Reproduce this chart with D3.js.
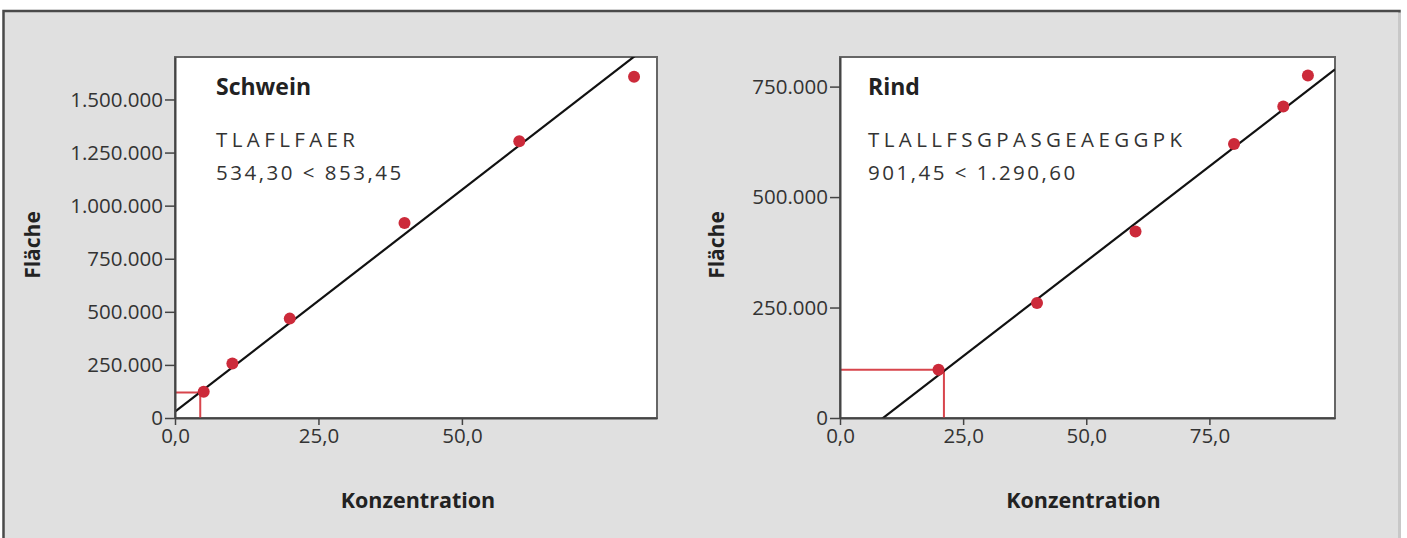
<!DOCTYPE html>
<html>
<head>
<meta charset="utf-8">
<script src="https://cdn.jsdelivr.net/npm/d3@7"></script>
<style>
  body { margin: 0; background: #fff; }
  svg text { font-family: "Open Sans", "Noto Sans", sans-serif; }
</style>
</head>
<body>
<script>
// Schwein
const schweinConc = [5, 10, 20, 40, 60, 80];
const schweinArea = [124000, 257000, 468000, 918000, 1303000, 1607000];
const schweinFit = [29600, 20900];      // Achsenabschnitt, Steigung
const schweinLimit = [4.4, 120000];     // markierter Punkt
const schweinXTicks = [0, 25, 50];
const schweinYTicks = [0, 250000, 500000, 750000, 1000000, 1250000, 1500000];

// Rind
const rindConc = [20, 40, 60, 80, 90, 95];
const rindArea = [109000, 260000, 422000, 620000, 705000, 775000];
const rindFit = [-75100, 8596];
const rindLimit = [21.1, 109000];
const rindXTicks = [0, 25, 50, 75];
const rindYTicks = [0, 250000, 500000, 750000];

const width = 1407;
const height = 538;

const de = d3.formatLocale({decimal: ",", thousands: ".", grouping: [3], currency: ["", " €"]});
const fmtY = de.format(",.0f");
const fmtX = de.format(",.1f");

const svg = d3.select("body")
  .append("svg")
  .attr("width", width)
  .attr("height", height);

// Hintergrund mit Rahmen
svg.append("rect")
  .attr("x", 3.5)
  .attr("y", 11)
  .attr("width", 1396)
  .attr("height", 540)
  .attr("fill", "#e0e0e0")
  .attr("stroke", "#4a4a4a")
  .attr("stroke-width", 2.5);

// rechter Rand etwas heller
svg.append("line")
  .attr("x1", 1399.5).attr("x2", 1399.5)
  .attr("y1", 12.5).attr("y2", height)
  .attr("stroke", "#c8c8c8")
  .attr("stroke-width", 3);

const panels = [
  {
    id: "schwein", title: "Schwein", peptide: "TLAFLFAER", mass: "534,30 < 853,45",
    conc: schweinConc, area: schweinArea, fit: schweinFit, limit: schweinLimit,
    xTicks: schweinXTicks, yTicks: schweinYTicks,
    xMax: 84, yMax: 1700000,
    left: 175, right: 657, textX: 41, ylabelX: 33, xlabelShift: 2
  },
  {
    id: "rind", title: "Rind", peptide: "TLALLFSGPASGEAEGGPK", mass: "901,45 < 1.290,60",
    conc: rindConc, area: rindArea, fit: rindFit, limit: rindLimit,
    xTicks: rindXTicks, yTicks: rindYTicks,
    xMax: 100.5, yMax: 817000,
    left: 840, right: 1335, textX: 28, ylabelX: 717, xlabelShift: -4
  }
];

const plotTop = 57;
const plotBottom = 418;

panels.forEach(p => {
  const x = d3.scaleLinear().domain([0, p.xMax]).range([p.left, p.right]);
  const y = d3.scaleLinear().domain([0, p.yMax]).range([plotBottom, plotTop]);
  const w = p.right - p.left;
  const h = plotBottom - plotTop;

  svg.append("clipPath")
    .attr("id", "clip-" + p.id)
    .append("rect")
    .attr("x", p.left)
    .attr("y", plotTop)
    .attr("width", w)
    .attr("height", h);

  // Plotflaeche
  svg.append("rect")
    .attr("x", p.left)
    .attr("y", plotTop)
    .attr("width", w)
    .attr("height", h)
    .attr("fill", "white")
    .attr("stroke", "#666")
    .attr("stroke-width", 2);

  const g = svg.append("g").attr("clip-path", `url(#clip-${p.id})`);

  // rote Hilfslinien
  g.append("path")
    .attr("d", `M${x(0)},${y(p.limit[1])}H${x(p.limit[0])}V${y(0)}`)
    .attr("fill", "none")
    .attr("stroke", "#d8454c")
    .attr("stroke-width", 2);

  // Regressionsgerade
  const fitLine = d3.line()
    .x(d => x(d))
    .y(d => y(p.fit[0] + p.fit[1] * d));
  g.append("path")
    .datum([0, p.xMax])
    .attr("d", fitLine)
    .attr("fill", "none")
    .attr("stroke", "#111")
    .attr("stroke-width", 2.2);

  // Messpunkte
  svg.append("g")
    .selectAll("circle")
    .data(p.conc.map((c, i) => [c, p.area[i]]))
    .join("circle")
    .attr("cx", d => x(d[0]))
    .attr("cy", d => y(d[1]))
    .attr("r", 6)
    .attr("fill", "#cc2a3a");

  // Achsen
  const yAxis = svg.append("g")
    .attr("transform", `translate(${p.left},0)`)
    .call(d3.axisLeft(y).tickValues(p.yTicks).tickFormat(fmtY)
      .tickSizeInner(10).tickSizeOuter(0).tickPadding(2));
  const xAxis = svg.append("g")
    .attr("transform", `translate(0,${plotBottom})`)
    .call(d3.axisBottom(x).tickValues(p.xTicks).tickFormat(fmtX)
      .tickSizeInner(7).tickSizeOuter(0).tickPadding(3));

  [yAxis, xAxis].forEach(a => {
    a.select(".domain").attr("stroke", "#444").attr("stroke-width", 2);
    a.selectAll(".tick line").attr("stroke", "#444").attr("stroke-width", 1.5);
    a.selectAll(".tick text")
      .attr("fill", "#333")
      .style("font-size", "20.5px");
  });

  // Texte im Diagramm
  svg.append("text")
    .attr("x", p.left + p.textX)
    .attr("y", 95)
    .style("font-size", "23px")
    .style("font-weight", "bold")
    .attr("fill", "#222")
    .text(p.title);

  svg.append("text")
    .attr("x", p.left + p.textX)
    .attr("y", 147)
    .style("font-size", "20.5px")
    .style("letter-spacing", "4.4px")
    .attr("fill", "#333")
    .text(p.peptide);

  svg.append("text")
    .attr("x", p.left + p.textX)
    .attr("y", 180)
    .style("font-size", "20.5px")
    .style("letter-spacing", "2.5px")
    .attr("fill", "#333")
    .text(p.mass);

  // Achsentitel
  svg.append("text")
    .attr("transform", `translate(${p.ylabelX + 7},245) rotate(-90)`)
    .attr("text-anchor", "middle")
    .style("font-size", "21px")
    .style("font-weight", "bold")
    .attr("fill", "#222")
    .text("Fläche");

  svg.append("text")
    .attr("x", (p.left + p.right) / 2 + p.xlabelShift)
    .attr("y", 508)
    .attr("text-anchor", "middle")
    .style("font-size", "21.5px")
    .style("font-weight", "bold")
    .attr("fill", "#222")
    .text("Konzentration");
});
</script>
</body>
</html>
